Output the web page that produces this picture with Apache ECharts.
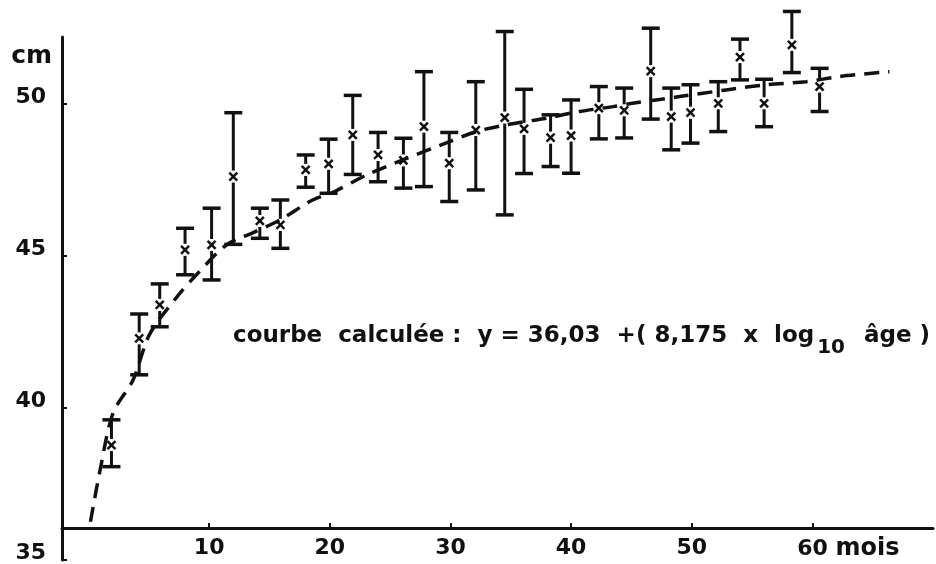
<!DOCTYPE html>
<html>
<head>
<meta charset="utf-8">
<title>courbe calculée</title>
<script src="https://cdn.jsdelivr.net/npm/echarts/dist/echarts.min.js"></script>
<style>
  body { margin: 0; background: #fff; }
  #main { width: 936px; height: 564px; }
</style>
</head>
<body>
<div id="main"></div>
<script>
// ages (mois) of the measured points
var ages = [1.9, 4.2, 5.9, 8, 10.2, 12, 14.2, 15.9, 18, 19.9, 21.9, 24, 26.1, 27.8, 29.9,
  32.1, 34.5, 36.1, 38.3, 40, 42.3, 44.4, 46.6, 48.3, 49.9, 52.2, 54, 56, 58.3, 60.6];
// mean length (cm) and top / bottom of each bar
var means = [38.78, 42.29, 43.39, 45.2, 45.36, 47.61, 46.15, 46.02, 47.83, 48.03, 48.98, 48.32, 48.14, 49.25, 48.05,
  49.14, 49.55, 49.18, 48.89, 48.96, 49.86, 49.79, 51.08, 49.58, 49.71, 50.02, 51.54, 50.02, 51.94, 50.57];
var upper = [39.61, 43.09, 44.08, 45.91, 46.57, 49.71, 46.57, 46.84, 48.32, 48.84, 50.28, 49.06, 48.87, 51.06, 49.06,
  50.73, 52.38, 50.48, 49.64, 50.13, 50.57, 50.52, 52.49, 50.52, 50.63, 50.73, 52.13, 50.81, 53.04, 51.17];
var lower = [38.07, 41.09, 42.67, 44.38, 44.21, 45.38, 45.58, 45.25, 47.26, 47.06, 47.68, 47.44, 47.23, 47.28, 46.79,
  47.17, 46.35, 47.71, 47.94, 47.72, 48.85, 48.88, 49.5, 48.49, 48.71, 49.09, 50.79, 49.25, 51.03, 49.75];

// dashed curve
var curveAges = [0.16, 0.93, 2.03, 3.69, 5.07, 7.28, 8.94, 11.43, 13.61, 15.84, 18.58, 20.4, 23.03, 26.06,
  29.93, 32.14, 34.63, 37.94, 40.7, 43.46, 45.09, 48.99, 52.86, 56.17, 59.49, 62.25, 66.39];
var curveVals = [36.26, 37.9, 39.83, 40.92, 42.43, 43.63, 44.38, 45.36, 45.76, 46.18, 46.84, 47.12, 47.66, 48.16,
  48.76, 49.09, 49.31, 49.53, 49.75, 49.91, 50.02, 50.24, 50.46, 50.63, 50.73, 50.9, 51.06];

var xTicks = [10, 20, 30, 40, 50, 60];
var yTicks = [35, 40, 45, 50];

var ink = '#111';
var font = 'DejaVu Sans';

var barData = [];
for (var i = 0; i < ages.length; i++) {
  barData.push([ages[i], means[i], upper[i], lower[i]]);
}
var curveData = [];
for (var j = 0; j < curveAges.length; j++) {
  curveData.push([curveAges[j], curveVals[j]]);
}

function seg(x1, y1, x2, y2, w) {
  return {
    type: 'line',
    shape: { x1: x1, y1: y1, x2: x2, y2: y2 },
    style: { stroke: ink, lineWidth: w }
  };
}

// error bar with a little gap round the cross
function renderBar(params, api) {
  var m = api.coord([api.value(0), api.value(1)]);
  var t = api.coord([api.value(0), api.value(2)]);
  var b = api.coord([api.value(0), api.value(3)]);
  var x = m[0], gap = 6, cap = 9, c = 4;
  var kids = [];
  if (t[1] < m[1] - gap) kids.push(seg(x, t[1], x, m[1] - gap, 3));
  if (b[1] > m[1] + gap) kids.push(seg(x, m[1] + gap, x, b[1], 3));
  kids.push(seg(x - cap, t[1], x + cap, t[1], 3.5));
  kids.push(seg(x - cap, b[1], x + cap, b[1], 3.5));
  kids.push(seg(x - c, m[1] - c, x + c, m[1] + c, 2.5));
  kids.push(seg(x - c, m[1] + c, x + c, m[1] - c, 2.5));
  return { type: 'group', children: kids };
}

var lbl = { fontFamily: font, fontWeight: 'bold', fontSize: 22, color: ink };

var chart = echarts.init(document.getElementById('main'));
chart.setOption({
  animation: false,
  backgroundColor: '#fff',
  grid: { left: 62, right: 3, top: 37, bottom: 4 },
  xAxis: {
    type: 'value',
    min: -2.2,
    max: 70,
    offset: -32,
    splitLine: { show: false },
    axisLine: { onZero: false, lineStyle: { color: ink, width: 3 } },
    axisTick: { inside: true, length: 5, customValues: xTicks, lineStyle: { color: ink, width: 2 } },
    axisLabel: {
      customValues: xTicks,
      margin: 9,
      color: ink,
      fontFamily: font,
      fontWeight: 'bold',
      fontSize: 22,
      formatter: function (v) {
        return v === 60 ? '{p|}{n|60 }{m|mois}' : String(v);
      },
      rich: {
        p: { width: 72 },
        n: lbl,
        m: { fontFamily: font, fontWeight: 'bold', fontSize: 24, color: ink }
      }
    }
  },
  yAxis: {
    type: 'value',
    min: 35,
    max: 52.2,
    name: 'cm',
    nameLocation: 'end',
    nameGap: -19,
    nameTextStyle: {
      color: ink, fontFamily: font, fontWeight: 'bold', fontSize: 25,
      align: 'right', verticalAlign: 'middle', padding: [0, 10, 0, 0]
    },
    splitLine: { show: false },
    axisLine: { show: true, onZero: false, lineStyle: { color: ink, width: 3 } },
    axisTick: { show: true, inside: true, length: 5, customValues: yTicks, lineStyle: { color: ink, width: 2 } },
    axisLabel: {
      customValues: yTicks,
      margin: 16,
      color: ink,
      fontFamily: font,
      fontWeight: 'bold',
      fontSize: 22,
      verticalAlign: 'bottom',
      lineHeight: 14
    }
  },
  graphic: [{
    type: 'text',
    left: 233,
    top: 325,
    style: {
      text: '{a|courbe  calculée :  y = 36,03  +( 8,175  x  log}{s|10}{a|  âge )}',
      fill: ink,
      rich: {
        a: { fontFamily: font, fontWeight: 'bold', fontSize: 23, fill: ink },
        s: { fontFamily: font, fontWeight: 'bold', fontSize: 20, fill: ink, padding: [22, 3, 0, 3] }
      }
    }
  }],
  series: [
    {
      type: 'line',
      data: curveData,
      smooth: 0.3,
      symbol: 'none',
      lineStyle: { color: ink, width: 3.5, type: [15, 9] },
      z: 2
    },
    {
      type: 'custom',
      data: barData,
      renderItem: renderBar,
      encode: { x: 0, y: [1, 2, 3] },
      clip: false,
      z: 3
    }
  ]
});
</script>
</body>
</html>
